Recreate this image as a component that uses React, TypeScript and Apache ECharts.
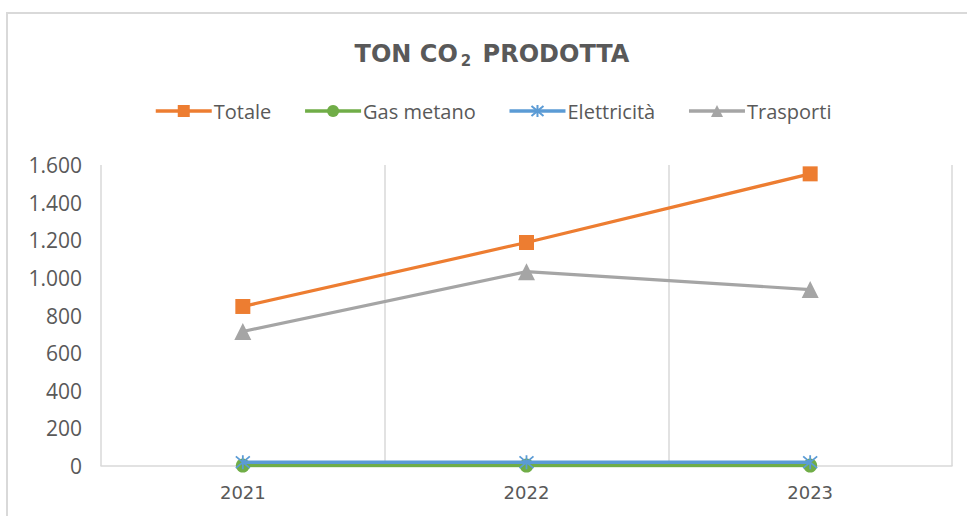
import React, { useEffect, useRef } from "react";
import * as echarts from "echarts";

const categories = ["2021", "2022", "2023"];
const totale = [848, 1188, 1553];
const gasMetano = [2, 2, 2];
const elettricita = [20, 20, 20];
const trasporti = [715, 1033, 938];
const yTicks = { min: 0, max: 1600, interval: 200 };

const ASTERISK = "path://M0,0L10,10M10,0L0,10M5,-1L5,11";

export default function App() {
  const ref = useRef<HTMLDivElement>(null);
  useEffect(() => {
    if (!ref.current) return;
    const chart = echarts.init(ref.current, null, { renderer: "svg" });
    const labelColor = "#595959";
    const font = "'Open Sans', sans-serif";
    chart.setOption({
      animation: false,
      backgroundColor: "#ffffff",
      graphic: [
        {
          type: "rect",
          shape: { x: 7, y: 13, width: 1000, height: 600 },
          style: { fill: "none", stroke: "#d9d9d9", lineWidth: 2 },
          z: -1,
        },
        {
          type: "text",
          x: 492,
          y: 54,
          style: {
            text: "{a|TON CO}{s|2}{a| PRODOTTA}",
            align: "center",
            verticalAlign: "middle",
            rich: {
              a: { fontFamily: "'DejaVu Sans', sans-serif", fontWeight: "bold", fontSize: 24, fill: labelColor },
              s: { fontFamily: "'DejaVu Sans', sans-serif", fontWeight: "bold", fontSize: 15, fill: labelColor, padding: [13, 3, 0, 3] },
            },
          },
        },
      ],
      legend: {
        left: 154,
        top: 101,
        padding: 0,
        itemWidth: 56,
        itemHeight: 15,
        itemGap: 32,
        lineStyle: { width: 3.5 },
        textStyle: { fontFamily: font, fontSize: 20, color: labelColor, padding: [0, 0, 0, -3] },
        data: ["Totale", "Gas metano", "Elettricità", "Trasporti"],
      },
      grid: { left: 101, right: 15, top: 165, bottom: 50, containLabel: false },
      xAxis: {
        type: "category",
        data: categories,
        boundaryGap: true,
        axisLine: { show: true, lineStyle: { color: "#d9d9d9", width: 1.5 } },
        axisTick: { show: false },
        axisLabel: { color: labelColor, fontFamily: "'DejaVu Sans', sans-serif", fontSize: 18, margin: 17 },
        splitLine: { show: true, lineStyle: { color: "#d9d9d9", width: 1.5 } },
      },
      yAxis: {
        type: "value",
        min: yTicks.min,
        max: yTicks.max,
        interval: yTicks.interval,
        axisLine: { show: false },
        axisTick: { show: false },
        splitLine: { show: false },
        axisLabel: {
          color: labelColor,
          fontFamily: font,
          fontSize: 21,
          margin: 19,
          formatter: (v: number) => v.toLocaleString("it-IT").replace(/\s/g, "."),
        },
      },
      series: [
        {
          name: "Totale",
          type: "line",
          data: totale,
          symbol: "rect",
          symbolSize: 15,
          itemStyle: { color: "#ED7D31" },
          lineStyle: { width: 3.2, color: "#ED7D31" },
          z: 4,
        },
        {
          name: "Gas metano",
          type: "line",
          data: gasMetano,
          symbol: "circle",
          symbolSize: 14,
          itemStyle: { color: "#70AD47" },
          lineStyle: { width: 3.5, color: "#70AD47" },
          z: 2,
        },
        {
          name: "Elettricità",
          type: "line",
          data: elettricita,
          symbol: ASTERISK,
          symbolSize: 14,
          itemStyle: { color: "#5B9BD5", borderColor: "#5B9BD5", borderWidth: 1.8 },
          lineStyle: { width: 3.5, color: "#5B9BD5" },
          z: 3,
        },
        {
          name: "Trasporti",
          type: "line",
          data: trasporti,
          symbol: "triangle",
          symbolSize: 17,
          itemStyle: { color: "#A5A5A5" },
          lineStyle: { width: 3.2, color: "#A5A5A5" },
          z: 3,
        },
      ],
    });
    return () => chart.dispose();
  }, []);
  return (
    <div
      ref={ref}
      style={{ position: "fixed", left: 0, top: 0, width: 967, height: 516 }}
    />
  );
}
